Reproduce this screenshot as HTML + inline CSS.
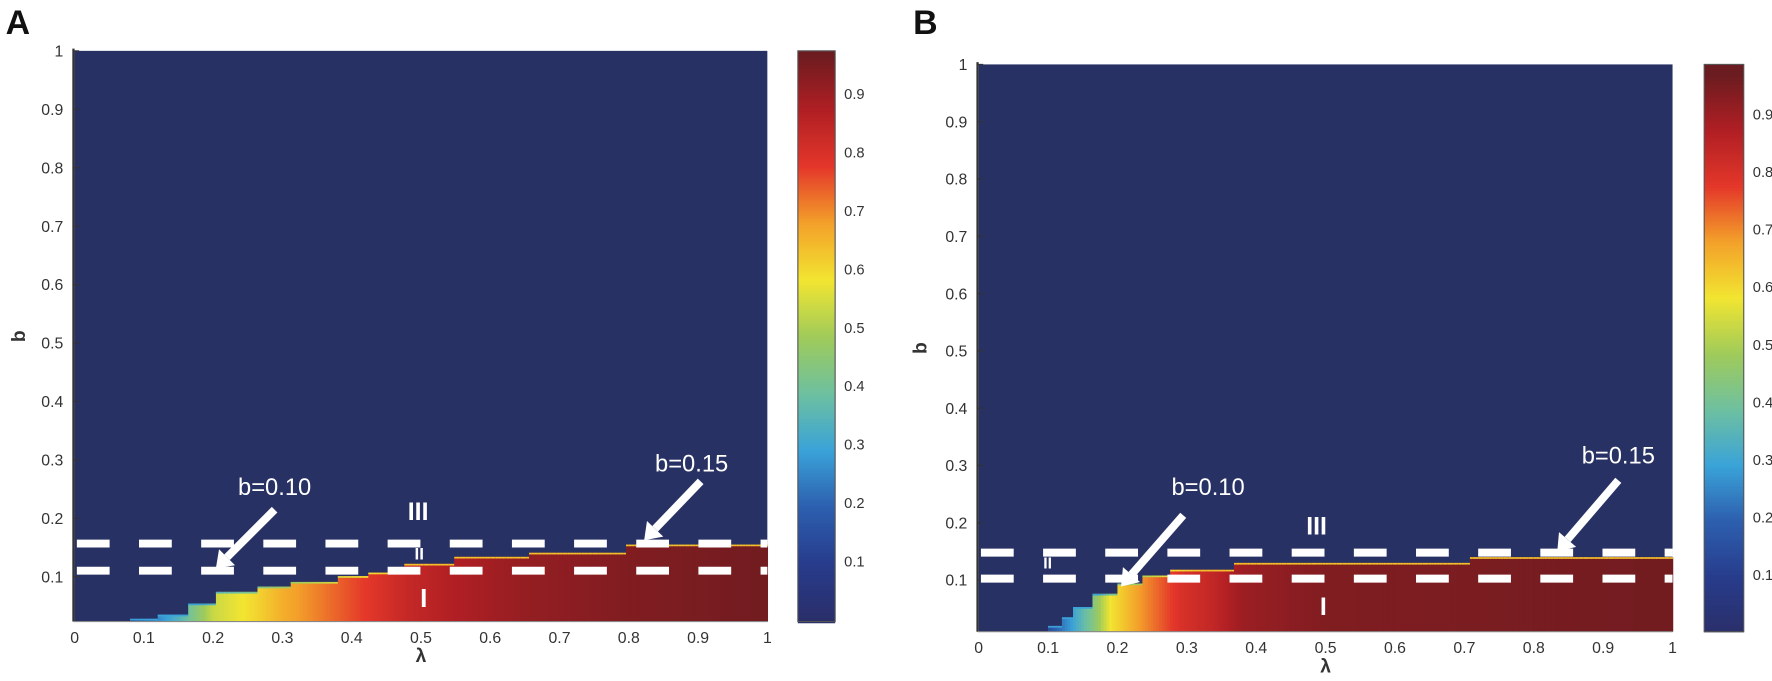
<!DOCTYPE html>
<html><head><meta charset="utf-8">
<style>
html,body{margin:0;padding:0;background:#fff;}
svg{display:block;font-family:"Liberation Sans",sans-serif;}
</style></head>
<body>
<svg id="fig" width="1772" height="681" viewBox="0 0 1568 602.6"></svg>
<script>
// ---- data ----
const xTicks = [0,0.1,0.2,0.3,0.4,0.5,0.6,0.7,0.8,0.9,1];
const yTicks = [0.1,0.2,0.3,0.4,0.5,0.6,0.7,0.8,0.9,1];
const cbTicks = [0.1,0.2,0.3,0.4,0.5,0.6,0.7,0.8,0.9];
// Panel A: staircase boundary (lambda start -> b height)
const boundLamA = [0,0.08,0.12,0.165,0.204,0.263,0.312,0.38,0.423,0.478,0.55,0.656,0.796];
const boundBA   = [0,0.028,0.035,0.054,0.074,0.083,0.091,0.101,0.107,0.122,0.134,0.141,0.155];
const colLamA = [0.08,0.1,0.15,0.2,0.26,0.3,0.4,0.48,0.55,0.65,0.8,1];
const colValA = [0.1,0.2,0.35,0.55,0.62,0.68,0.78,0.86,0.9,0.94,0.97,0.99];
// Panel B
const boundLamB = [0,0.1,0.12,0.135,0.166,0.2,0.238,0.277,0.37,0.708];
const boundBB   = [0,0.02,0.035,0.053,0.076,0.094,0.108,0.118,0.13,0.14];
const colLamB = [0.1,0.135,0.166,0.19,0.23,0.29,0.34,0.38,0.5,1];
const colValB = [0.15,0.3,0.45,0.6,0.7,0.82,0.87,0.93,0.97,0.99];

const cmapStops=[[0,[42,47,106]],[0.1,[40,60,140]],[0.2,[45,95,175]],[0.3,[58,163,216]],[0.4,[110,192,160]],[0.5,[160,203,90]],[0.6,[242,229,49]],[0.7,[243,161,42]],[0.8,[228,55,42]],[0.9,[176,31,36]],[1,[107,28,32]]];
function cmap(v){v=Math.max(0,Math.min(1,v));for(let i=1;i<cmapStops.length;i++){if(v<=cmapStops[i][0]){const a=cmapStops[i-1],b=cmapStops[i],t=(v-a[0])/(b[0]-a[0]);const c=a[1].map((x,k)=>Math.round(x+(b[1][k]-x)*t));return `rgb(${c})`;}}return 'rgb(107,28,32)';}
function stepLookup(xs,ys,x){let r=ys[0];for(let i=0;i<xs.length;i++)if(x>=xs[i])r=ys[i];return r;}
function lerp(xs,ys,x){if(x<=xs[0])return ys[0];for(let i=1;i<xs.length;i++)if(x<=xs[i]){const t=(x-xs[i-1])/(xs[i]-xs[i-1]);return ys[i-1]+(ys[i]-ys[i-1])*t;}return ys[ys.length-1];}

const NS="http://www.w3.org/2000/svg";
const svg=document.getElementById('fig');
function mk(tag,attrs,parent){const e=document.createElementNS(NS,tag);for(const k in attrs)e.setAttribute(k,attrs[k]);(parent||svg).appendChild(e);return e;}

function panel(P){
  const g=mk('g',{});
  
  
  const X=v=>P.x0+(P.x1-P.x0)*v;
  const Y=v=>P.y1v-(P.y1v-P.ytop)*v;
  const bg=mk('rect',{x:P.x0,y:P.ytop,width:P.x1-P.x0,height:P.ybot-P.ytop,fill:'#283163'},g);
  
  
  const step=0.004;
  for(let l=0;l<1;l+=step){
    const bb=stepLookup(P.bl,P.bb,l+step/2);
    if(bb<=0)continue;
    const v=lerp(P.cl,P.cv,l+step/2);
    const top=Math.min(Y(bb),P.ybot-1);
    const r=mk('rect',{x:X(l),y:top,width:X(l+step)-X(l)+0.6,height:P.ybot-top,fill:cmap(v)},g);
    
    
    const e=mk('rect',{x:X(l),y:top,width:X(l+step)-X(l)+0.6,height:1.5,fill:cmap(Math.max(0.3,Math.min(0.65,v-0.2)))},g);
    
    
  }
  const ax=mk('line',{x1:P.x0-1,y1:P.ytop-2,x2:P.x0-1,y2:P.ybot,stroke:'#333','stroke-width':2},g);
  
  const bx=mk('line',{x1:P.x0-1,y1:P.ybot,x2:P.x1,y2:P.ybot,stroke:'#888','stroke-width':1},g);
  
  yTicks.forEach(t=>{
    const tl=mk('line',{x1:P.x0-1,x2:P.x0+4,y1:Y(t),y2:Y(t),stroke:'#333','stroke-width':1},g);
    
    const tx=mk('text',{x:P.x0-10,y:Y(t)+5,'text-anchor':'end','font-size':14,fill:'#333'},g);
    tx.textContent=String(t);
    
  });
  xTicks.forEach(t=>{
    const tx=mk('text',{x:X(t),y:P.ybot+19,'text-anchor':'middle','font-size':14,fill:'#333'},g);
    tx.textContent=String(t);
    
  });
  const xl=mk('text',{x:(P.x0+P.x1)/2,y:P.ybot+36,'text-anchor':'middle','font-size':17,'font-weight':'bold',fill:'#333'},g);
  xl.textContent='λ';
  const yl=mk('text',{x:P.ylx,y:(P.ytop+P.ybot)/2,'text-anchor':'middle','font-size':17,'font-weight':'bold',fill:'#333',transform:`rotate(-90 ${P.ylx} ${(P.ytop+P.ybot)/2})`},g);
  yl.textContent='b';
  const lt=mk('text',{x:P.lx,y:30,'font-size':30,'font-weight':'bold',fill:'#111'},g);
  lt.textContent=P.letter;
  P.dashY.forEach((yy,i)=>{
    const d=mk('line',{x1:P.x0+2,x2:P.x1,y1:yy,y2:yy,stroke:'#fff','stroke-width':7,'stroke-dasharray':'29 26'},g);
    
  });
  P.texts.forEach(t=>{
    const e=mk('text',{x:t[1],y:t[2],'text-anchor':'middle','font-size':t[3],fill:'#fff','font-weight':t[4]||'normal'},g);
    e.textContent=t[0];
  });
  P.arrows.forEach(a=>{
    const [x1,y1,x2,y2]=a;const ang=Math.atan2(y2-y1,x2-x1);
    const hx=x2-14*Math.cos(ang),hy=y2-14*Math.sin(ang);
    const ln=mk('line',{x1,y1,x2:hx,y2:hy,stroke:'#fff','stroke-width':7},g);
    
    const px=Math.sin(ang)*10,py=-Math.cos(ang)*10;
    const hd=mk('polygon',{points:`${x2},${y2} ${hx+px},${hy+py} ${hx-px},${hy-py}`,fill:'#fff'},g);
    
  });
  const CY=v=>P.cbZero-(P.cbZero-P.cbOne)*v;
  for(let y=P.ytop;y<P.ybot;y+=2){
    const v=(P.cbZero-y)/(P.cbZero-P.cbOne);
    const r=mk('rect',{x:P.cbx,y:y,width:P.cbw,height:2.5,fill:cmap(v/0.97)},g);
    
  }
  const cbb=mk('rect',{x:P.cbx,y:P.ytop,width:P.cbw,height:P.ybot-P.ytop,fill:'none',stroke:'#555','stroke-width':1},g);
  
  cbTicks.forEach(t=>{
    const tx=mk('text',{x:P.cbx+P.cbw+8,y:CY(t)+5,'font-size':13,fill:'#333'},g);
    tx.textContent=String(t);
  });
}

panel({name:'panel-a',letter:'A',lx:5,x0:66,x1:679,ytop:45,ybot:550,y1v:562,ylx:22,
  bl:boundLamA,bb:boundBA,cl:colLamA,cv:colValA,dashY:[481,505],
  cbx:706,cbw:33,cbZero:548,cbOne:31,
  texts:[['b=0.10',243,438,21,'normal','label-b010'],['III',370,460,22,'bold','region-iii-label'],['II',371,495,15,'bold','region-ii-label'],['I',375,537,23,'bold','region-i-label'],['b=0.15',612,417,21,'normal','label-b015']],
  arrows:[[243,451,191,503],[620,426,570,478]]});
panel({name:'panel-b',letter:'B',lx:808,x0:866,x1:1480,ytop:57,ybot:559,y1v:564,ylx:820,
  bl:boundLamB,bb:boundBB,cl:colLamB,cv:colValB,dashY:[489,512],
  cbx:1508,cbw:35,cbZero:559,cbOne:50,
  texts:[['b=0.10',1069,438,21,'normal','label-b010'],['III',1165,473,22,'bold','region-iii-label'],['II',927,503,14,'bold','region-ii-label'],['I',1171,544,22,'bold','region-i-label'],['b=0.15',1432,410,21,'normal','label-b015']],
  arrows:[[1047,456,992,519],[1432,425,1378,488]]});
</script>
</body></html>
